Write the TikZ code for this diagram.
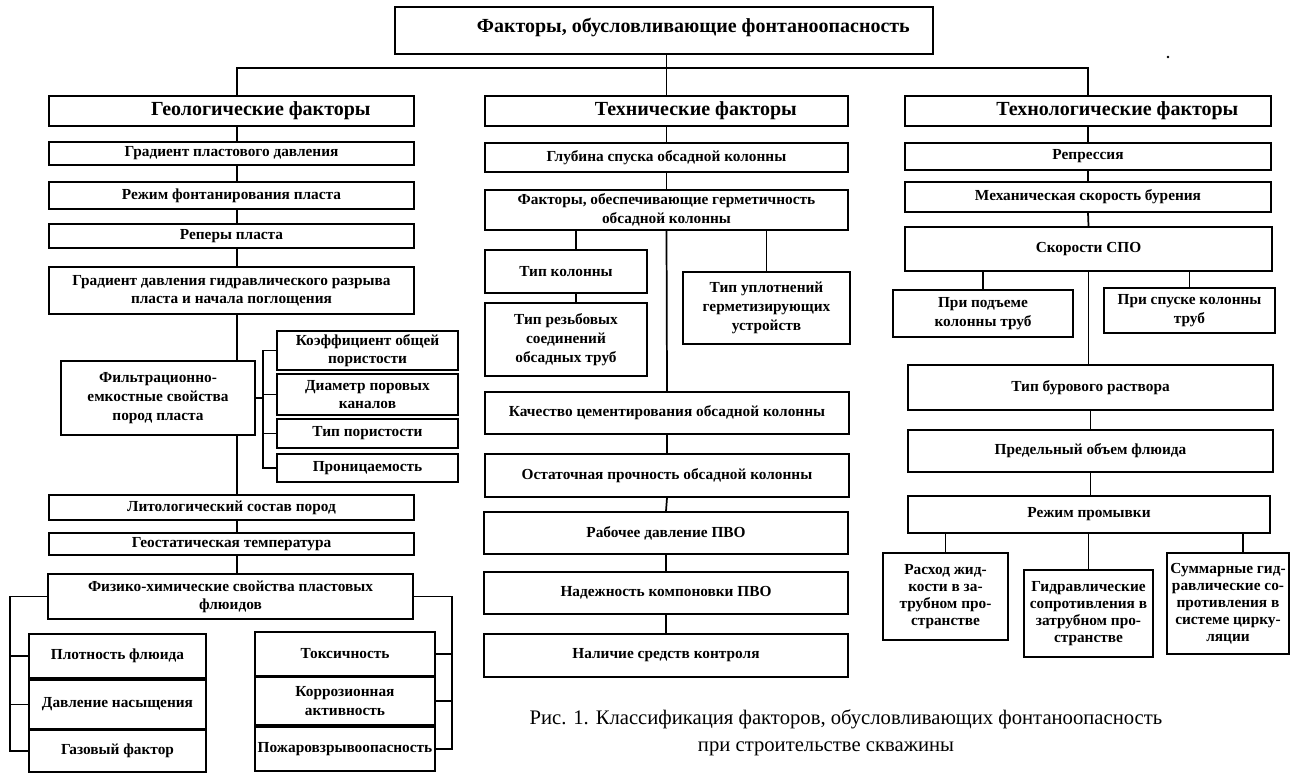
\documentclass[tikz,border=0pt]{standalone}
\usepackage{fontspec}
\setmainfont{Liberation Serif}
\newcommand\mkbox[7][]{%
  \node[bx,#1,minimum width={(#5-#3)*0.75pt},minimum height={(#6-#4)*0.75pt}]
    (#2) at ({(#3+#5)/2},{(#4+#6)/2}) {#7};}
\tikzset{
  bx/.style={draw,line width=1.3pt,inner sep=0pt,align=center,
    font=\fontsize{11.5}{14}\selectfont\bfseries},
  hdr/.style={inner sep=0pt,font=\fontsize{15}{18}\selectfont\bfseries},
  ln/.style={line width=1.3pt},
  narrow/.style={font=\fontsize{11.5}{12.8}\selectfont\bfseries},
  capt/.style={inner sep=0pt,align=center,font=\fontsize{15.5}{20}\selectfont}
}
\begin{document}
\begin{tikzpicture}[x=0.75pt,y=-0.75pt]
\useasboundingbox (0,0) rectangle (1291,774);
% headers
\mkbox{top}{395}{7}{933}{54}{}
\mkbox{geo}{49}{96}{414}{126}{}
\mkbox{tech}{485}{96}{848}{126}{}
\mkbox{techno}{905}{96}{1271}{126}{}
\node[hdr] (topT) at ([xshift=22pt,yshift=2pt]top.center) {Факторы, обусловливающие фонтаноопасность};
\node[hdr] (geoT) at ([xshift=22pt]geo.center) {Геологические факторы};
\node[hdr] (techT) at ([xshift=22pt]tech.center) {Технические факторы};
\node[hdr] (technoT) at ([xshift=22pt]techno.center) {Технологические факторы};
% geological
\mkbox{g1}{49}{142}{414}{165}{Градиент пластового давления}
\mkbox{g2}{49}{182}{414}{209}{Режим фонтанирования пласта}
\mkbox{g3}{49}{224}{414}{248}{Реперы пласта}
\mkbox[font=\fontsize{11.5}{13.5}\selectfont\bfseries]{g4}{49}{267}{414}{314}{Градиент давления гидравлического разрыва\\пласта и начала поглощения}
\mkbox[font=\fontsize{11.5}{14.3}\selectfont\bfseries]{filt}{61}{361}{255}{435}{Фильтрационно-\\емкостные свойства\\пород пласта}
\mkbox{k1}{277}{331}{458}{370}{Коэффициент общей\\пористости}
\mkbox{k2}{277}{374}{458}{415}{Диаметр поровых\\каналов}
\mkbox{k3}{277}{419}{458}{448}{Тип пористости}
\mkbox{k4}{277}{454}{458}{482}{Проницаемость}
\mkbox{g5}{49}{495}{414}{520}{Литологический состав пород}
\mkbox{g6}{49}{533}{414}{555}{Геостатическая температура}
\mkbox[font=\fontsize{11.5}{13.5}\selectfont\bfseries]{g7}{48}{574}{413}{619}{Физико-химические свойства пластовых\\флюидов}
\mkbox{p1}{29}{634}{206}{678}{Плотность флюида}
\mkbox{p2}{29}{680}{206}{729}{Давление насыщения}
\mkbox{p3}{29}{730}{206}{772}{Газовый фактор}
\mkbox{r1}{255}{632}{435}{676}{Токсичность}
\mkbox{r2}{255}{677}{435}{725}{Коррозионная\\активность}
\mkbox{r3}{255}{727}{435}{771}{Пожаровзрывоопасность}
% technical
\mkbox{t1}{485}{143}{848}{172}{Глубина спуска обсадной колонны}
\mkbox{t2}{485}{190}{848}{230}{Факторы, обеспечивающие герметичность\\обсадной колонны}
\mkbox{tk1}{485}{250}{647}{293}{Тип колонны}
\mkbox{tk2}{485}{303}{647}{376}{Тип резьбовых\\соединений\\обсадных труб}
\mkbox{tu}{683}{272}{850}{344}{Тип уплотнений\\герметизирующих\\устройств}
\mkbox{t3}{485}{392}{849}{434}{Качество цементирования обсадной колонны}
\mkbox{t4}{485}{454}{849}{497}{Остаточная прочность обсадной колонны}
\mkbox{t5}{484}{512}{848}{554}{Рабочее давление ПВО}
\mkbox{t6}{484}{572}{848}{614}{Надежность компоновки ПВО}
\mkbox{t7}{484}{634}{848}{677}{Наличие средств контроля}
% technological
\mkbox{s1}{905}{143}{1271}{170}{Репрессия}
\mkbox{s2}{905}{182}{1271}{212}{Механическая скорость бурения}
\mkbox{s3}{905}{227}{1272}{271}{Скорости СПО}
\mkbox{sp1}{893}{290}{1073}{337}{При подъеме\\колонны труб}
\mkbox{sp2}{1104}{288}{1275}{333}{При спуске колонны\\труб}
\mkbox{s4}{908}{365}{1273}{410}{Тип бурового раствора}
\mkbox{s5}{908}{430}{1273}{472}{Предельный объем флюида}
\mkbox{s6}{908}{496}{1270}{533}{Режим промывки}
\mkbox[narrow]{w1}{883}{553}{1008}{640}{Расход жид-\\кости в за-\\трубном про-\\странстве}
\mkbox[narrow]{w2}{1024}{570}{1153}{657}{Гидравлические\\сопротивления в\\затрубном про-\\странстве}
\mkbox[narrow]{w3}{1167}{553}{1289}{654}{Суммарные гид-\\равлические со-\\противления в\\системе цирку-\\ляции}
% caption
\node[capt] (cap) at (846,733) {Рис. 1. Классификация факторов, обусловливающих фонтаноопасность\\\hspace*{-30pt}при строительстве скважины};
\fill (1168,57) circle[radius=1pt];
% helper coordinates
\coordinate (bus) at (0,68);
\coordinate (gx) at (237,0);
\coordinate (tkx) at (576,0);
\coordinate (kb) at (263,0);
\coordinate (lb) at (10,0);
\coordinate (rb) at (452,0);
\coordinate (wx) at (1243,0);
% connectors: top level
\draw[ln] (tech.north) -- (tech.north |- top.south);
\draw[ln] (geo.north -| gx) -- (gx |- bus) -- (techno.north |- bus) -- (techno.north);
% geological
\draw[ln] (geo.south -| gx) -- (g1.north -| gx);
\draw[ln] (g1.south -| gx) -- (g2.north -| gx);
\draw[ln] (g2.south -| gx) -- (g3.north -| gx);
\draw[ln] (g3.south -| gx) -- (g4.north -| gx);
\draw[ln] (g4.south -| gx) -- (filt.north -| gx);
\draw[ln] (filt.south -| gx) -- (g5.north -| gx);
\draw[ln] (g5.south -| gx) -- (g6.north -| gx);
\draw[ln] (g6.south -| gx) -- (g7.north -| gx);
\draw[ln] (filt.east) -- (filt.east -| kb);
\draw[ln] (k1.west) -- (k1.west -| kb) -- (k4.west -| kb) -- (k4.west);
\draw[ln] (k2.west) -- (k2.west -| kb);
\draw[ln] (k3.west) -- (k3.west -| kb);
\draw[ln] (g7.west) -- (g7.west -| lb) -- (p3.west -| lb) -- (p3.west);
\draw[ln] (p1.west) -- (p1.west -| lb);
\draw[ln] (p2.west) -- (p2.west -| lb);
\draw[ln] (g7.east) -- (g7.east -| rb) -- (r3.east -| rb) -- (r3.east);
\draw[ln] (r1.east) -- (r1.east -| rb);
\draw[ln] (r2.east) -- (r2.east -| rb);
% technical
\draw[ln] (tech.south) -- (t1.north);
\draw[ln] (t1.south) -- (t2.north);
\draw[ln] (t2.south -| tkx) -- (tk1.north -| tkx);
\draw[ln] (tk1.south -| tkx) -- (tk2.north -| tkx);
\draw[ln] (t2.south -| tu.north) -- (tu.north);
\draw[ln] (t2.south) -- (t3.north);
\draw[ln] (t3.south) -- (t4.north);
\draw[ln] (t4.south) -- (t5.north);
\draw[ln] (t5.south) -- (t6.north);
\draw[ln] (t6.south) -- (t7.north);
% technological
\draw[ln] (techno.south) -- (s1.north);
\draw[ln] (s1.south) -- (s2.north);
\draw[ln] (s2.south) -- (s3.north);
\draw[ln] (s3.south -| sp1.north) -- (sp1.north);
\draw[ln] (s3.south -| sp2.north) -- (sp2.north);
\draw[ln] (s3.south) -- (s3.south |- s4.north);
\draw[ln] (s4.south) -- (s4.south |- s5.north);
\draw[ln] (s5.south) -- (s5.south |- s6.north);
\draw[ln] (s6.south -| w1.north) -- (w1.north);
\draw[ln] (s6.south -| w2.north) -- (w2.north);
\draw[ln] (s6.south -| wx) -- (w3.north -| wx);
\end{tikzpicture}
\end{document}
